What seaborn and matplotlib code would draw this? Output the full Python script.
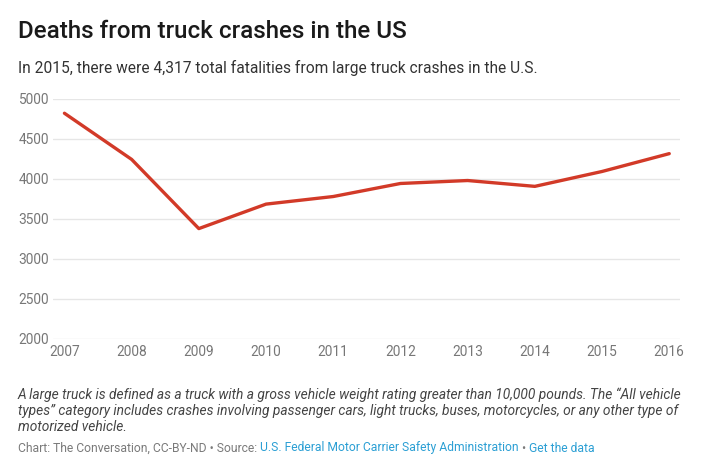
import matplotlib
matplotlib.use("Agg")
import matplotlib.pyplot as plt
import pandas as pd
import seaborn as sns

# Large truck crash fatalities, FMCSA
years = [2007, 2008, 2009, 2010, 2011, 2012, 2013, 2014, 2015, 2016]
deaths = [4822, 4245, 3380, 3686, 3781, 3944, 3981, 3908, 4094, 4317]
y_ticks = [2000, 2500, 3000, 3500, 4000, 4500, 5000]

title = "Deaths from truck crashes in the US"
subtitle = "In 2015, there were 4,317 total fatalities from large truck crashes in the U.S."
note = ("A large truck is defined as a truck with a gross vehicle weight rating greater than 10,000 pounds. The \u201cAll vehicle\n"
        "types\u201d category includes crashes involving passenger cars, light trucks, buses, motorcycles, or any other type of\n"
        "motorized vehicle.")
source_parts = [
    ("Chart: The Conversation, CC-BY-ND \u2022 Source: ", "#7a7a7a"),
    ("U.S. Federal Motor Carrier Safety Administration", "#2b9fd4"),
    (" \u2022 ", "#7a7a7a"),
    ("Get the data", "#2b9fd4"),
]

df = pd.DataFrame({"year": years, "deaths": deaths})

sns.set_theme(style="white")
plt.rcParams["font.family"] = ["Roboto", "DejaVu Sans"]

W, H = 704, 470
fig = plt.figure(figsize=(W / 100, H / 100), dpi=100)
ax = fig.add_axes([53 / W, 1 - 339 / H, (680 - 53) / W, (339 - 99) / H])

sns.lineplot(data=df, x="year", y="deaths", ax=ax, color="#d23a28", linewidth=2.4)

ax.set_xlim(2006.83, 2016.16)
ax.set_ylim(2000, 5000)
ax.set_xticks(years)
ax.set_yticks(y_ticks)
ax.set_xlabel("")
ax.set_ylabel("")
ax.grid(axis="y", color="#e6e6e6", linewidth=1)
ax.grid(axis="x", visible=False)
for s in ax.spines.values():
    s.set_visible(False)
ax.tick_params(axis="both", length=0, labelsize=9.9, labelcolor="#777777")
ax.tick_params(axis="y", pad=3)
ax.tick_params(axis="x", pad=4.5)
ax.set_axisbelow(True)

fig.text(18 / W, 1 - 32 / H, title, fontsize=17.4, color="#1a1a1a",
         fontweight="medium", va="center", ha="left")
fig.text(18 / W, 1 - 68 / H, subtitle, fontsize=11.2, color="#333333",
         va="center", ha="left")
fig.text(18 / W, 1 - 387 / H, note, fontsize=9.9, color="#444444",
         style="italic", va="top", ha="left", linespacing=1.2)

# source line with coloured link segments
fig.canvas.draw()
renderer = fig.canvas.get_renderer()
x = 18
for txt, col in source_parts:
    t = fig.text(x / W, 1 - 448 / H, txt, fontsize=8.7, color=col,
                 va="center", ha="left")
    x = t.get_window_extent(renderer).x1

fig.savefig("out.png", dpi=100, facecolor="white")
